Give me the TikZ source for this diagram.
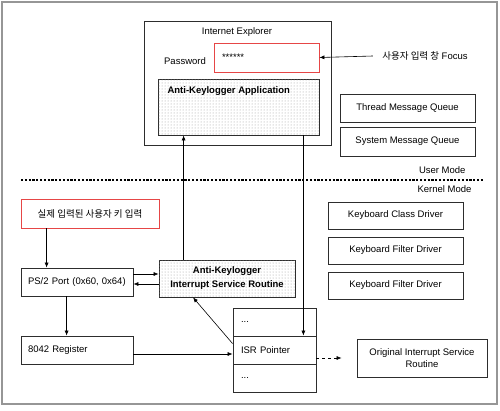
\documentclass[tikz,border=0pt]{standalone}
\usepackage{fontspec}
\setmainfont{Liberation Sans}
\newfontfamily\kr{Noto Sans CJK KR}
\usetikzlibrary{arrows.meta, calc, positioning, shadows, patterns}
\definecolor{framegray}{RGB}{150,150,150}
\definecolor{inputred}{RGB}{230,70,70}
\definecolor{boxline}{RGB}{45,45,45}

\begin{document}
\begin{tikzpicture}[x=1pt, y=-1pt, font=\fontsize{9.5}{12}\selectfont,
    box/.style={draw=boxline, line width=0.8pt, fill=white, inner sep=0pt,
        drop shadow={shadow xshift=1.2pt, shadow yshift=-1.2pt, fill=black!45, opacity=1}},
    redbox/.style={box, draw=inputred},
    dotbox/.style={box, postaction={pattern=dots, pattern color=black!40}},
    cell/.style={box, minimum width=83pt, minimum height=28pt, text width=67pt, align=left},
    arr/.style={-{Latex[length=5pt, width=4pt]}, line width=0.6pt, black}]
    \useasboundingbox (0,0) rectangle (500,410);
    % Frame
    \draw[framegray, line width=1.2pt] (2,2) rectangle (497,404);

    % User mode: browser window
    \node[box, minimum width=187pt, minimum height=124pt] (ie) at (237.5,83) {};
    \node (ietitle) at (237,32) {Internet Explorer};
    \node (pwlabel) at (185,61) {Password};
    \node[redbox, minimum width=105pt, minimum height=29pt, text width=89pt, align=left] (pw) at (266.5,57.5) {\raisebox{-2pt}{******}};
    \node[dotbox, minimum width=161pt, minimum height=56pt] (app) at (238.5,107) {};
    \node[anchor=west, font=\fontsize{9.5}{12}\selectfont\bfseries] (apptitle) at (164,91) {Anti-Keylogger Application};

    % Focus
    \node (focus) at (425,56) {{\kr 사용자 입력 창} Focus};
    \draw[arr] ([xshift=-6pt]focus.west) -- (pw.east);

    % Message queues
    \node[box, minimum width=135pt, minimum height=28pt] (thread) at (407.5,108) {Thread Message Queue};
    \node[box, minimum width=135pt, minimum height=29pt] (system) at (407.5,141.5) {System Message Queue};

    % Mode boundary
    \node[anchor=east] (usermode) at (469,170) {User Mode};
    \draw[line width=2.2pt, dash pattern=on 2.2pt off 1.6pt] (21,180) -- (484,180);
    \node[anchor=east] (kernelmode) at (475,189) {Kernel Mode};

    % Kernel mode
    \node[redbox, minimum width=138pt, minimum height=29pt] (input) at (90,213.5) {\kr 실제 입력된 사용자 키 입력};
    \node[box, minimum width=112pt, minimum height=28pt, text width=98pt, align=left] (ps2) at (77,282) {PS/2 Port (0x60, 0x64)};
    \node[box, minimum width=112pt, minimum height=28pt, text width=98pt, align=left] (reg) at (77,350) {8042 Register};
    \node[dotbox, minimum width=136pt, minimum height=37pt, align=center, font=\fontsize{9.5}{14}\selectfont\bfseries] (akisr) at (227,278.5) {Anti-Keylogger\\Interrupt Service Routine};

    \node[box, minimum width=135pt, minimum height=27pt] (kcd) at (395.5,215.5) {Keyboard Class Driver};
    \node[box, minimum width=135pt, minimum height=27pt] (kfd1) at (395.5,250.5) {Keyboard Filter Driver};
    \node[box, minimum width=135pt, minimum height=27pt] (kfd2) at (395.5,285.5) {Keyboard Filter Driver};

    % Interrupt table
    \node[cell] (cell1) at (274.5,322) {...};
    \node[cell] (ptr) at (274.5,350) {ISR Pointer};
    \node[cell] (cell3) at (274.5,378) {...};
    \node[box, minimum width=130pt, minimum height=38pt, align=center] (orig) at (422,358) {Original Interrupt Service\\Routine};

    % Connectors
    \draw[arr] ([xshift=26pt]input.south west) -- ([xshift=26pt]ps2.north west);
    \draw[arr] ([xshift=46pt]ps2.south west) -- ([xshift=46pt]reg.north west);
    \draw[arr] ([yshift=8pt]ps2.east) -- ([yshift=8pt]ps2.east -| akisr.west);
    \draw[arr] ([yshift=-2pt]ps2.east -| akisr.west) -- ([yshift=-2pt]ps2.east);
    \draw[arr] ([yshift=-4pt]reg.east) -- ([yshift=-4pt]ptr.west);
    \draw[arr] ([yshift=-8pt]ptr.north west) -- ([xshift=-34pt]akisr.south);
    \draw[arr] ([xshift=25pt]akisr.north west) -- ([xshift=25pt]akisr.north west |- app.south);
    \draw[arr] ([xshift=-16pt]app.south east) -- ([xshift=-16pt]app.south east |- ptr.north);
    \draw[arr, dashed] ([yshift=-8pt]ptr.east) -- ([xshift=-15pt]orig.west);
\end{tikzpicture}
\end{document}
